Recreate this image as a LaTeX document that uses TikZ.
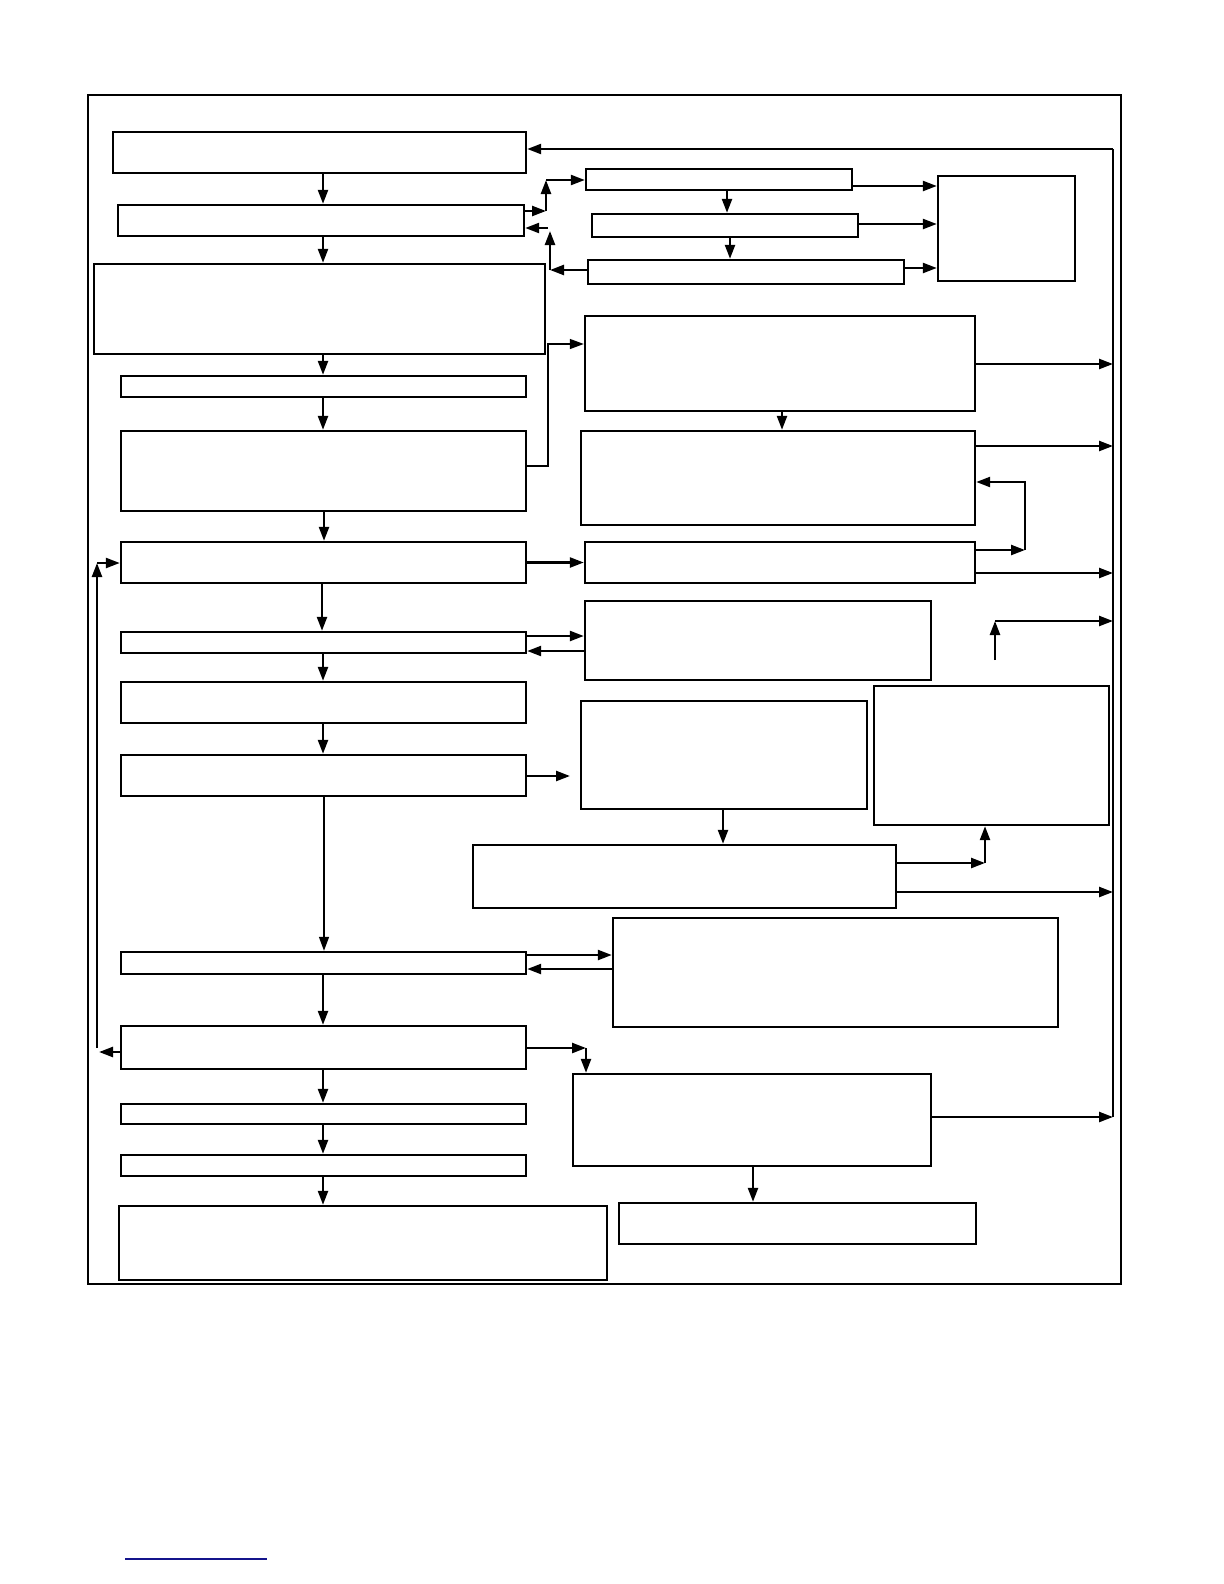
\documentclass[tikz,border=0pt]{standalone}
\usepackage{tikz}
\usetikzlibrary{arrows.meta, fit, calc}
\definecolor{rulenavy}{RGB}{20,20,140}

\begin{document}
\begin{tikzpicture}[x=0.5pt, y=-0.5pt, >={Triangle[length=7pt, width=5pt]}]
  \tikzset{
    blk/.style={draw, line width=1.2pt, inner sep=0pt},
    arr/.style={->, line width=1.2pt},
    thinarr/.style={->, line width=0.7pt}
  }
  \useasboundingbox (0,0) rectangle (1224,1584);

  % Outer frame
  \node[blk, fit={(88,95) (1121,1284)}] (frame) {};

  % Left column
  \node[blk, fit={(113,132) (526,173)}] (b1) {};
  \node[blk, fit={(118,205) (524,236)}] (b2) {};
  \node[blk, fit={(94,264) (545,354)}] (b3) {};
  \node[blk, fit={(121,376) (526,397)}] (b4) {};
  \node[blk, fit={(121,431) (526,511)}] (b5) {};
  \node[blk, fit={(121,542) (526,583)}] (b6) {};
  \node[blk, fit={(121,632) (526,653)}] (b7) {};
  \node[blk, fit={(121,682) (526,723)}] (b8) {};
  \node[blk, fit={(121,755) (526,796)}] (b9) {};
  \node[blk, fit={(121,952) (526,974)}] (b10) {};
  \node[blk, fit={(121,1026) (526,1069)}] (b11) {};
  \node[blk, fit={(121,1104) (526,1124)}] (b12) {};
  \node[blk, fit={(121,1155) (526,1176)}] (b13) {};
  \node[blk, fit={(119,1206) (607,1280)}] (b14) {};

  % Right side
  \node[blk, fit={(586,169) (852,190)}] (r1) {};
  \node[blk, fit={(592,214) (858,237)}] (r2) {};
  \node[blk, fit={(588,260) (904,284)}] (r3) {};
  \node[blk, fit={(938,176) (1075,281)}] (r4) {};
  \node[blk, fit={(585,316) (975,411)}] (r5) {};
  \node[blk, fit={(581,431) (975,525)}] (r6) {};
  \node[blk, fit={(585,542) (975,583)}] (r7) {};
  \node[blk, fit={(585,601) (931,680)}] (r8) {};
  \node[blk, fit={(581,701) (867,809)}] (r9) {};
  \node[blk, fit={(874,686) (1109,825)}] (r10) {};
  \node[blk, fit={(473,845) (896,908)}] (r11) {};
  \node[blk, fit={(613,918) (1058,1027)}] (r12) {};
  \node[blk, fit={(573,1074) (931,1166)}] (r13) {};
  \node[blk, fit={(619,1203) (976,1244)}] (r14) {};

  % Main downward flow
  \coordinate (lx) at (323,0);
  \draw[arr] (b1.south -| lx) -- (b2.north -| lx);
  \draw[arr] (b2.south -| lx) -- (b3.north -| lx);
  \draw[arr] (b3.south -| lx) -- (b4.north -| lx);
  \draw[arr] (b4.south -| lx) -- (b5.north -| lx);
  \draw[arr] (b5.south -| 324,0) -- (b6.north -| 324,0);
  \draw[arr] (b6.south -| 322,0) -- (b7.north -| 322,0);
  \draw[arr] (b7.south -| lx) -- (b8.north -| lx);
  \draw[arr] (b8.south -| lx) -- (b9.north -| lx);
  \draw[thinarr] (b9.south -| 324,0) -- (b10.north -| 324,0);
  \draw[arr] (b10.south -| lx) -- (b11.north -| lx);
  \draw[arr] (b11.south -| lx) -- (b12.north -| lx);
  \draw[arr] (b12.south -| lx) -- (b13.north -| lx);
  \draw[arr] (b13.south -| lx) -- (b14.north -| lx);

  % Upper exchange with the small boxes
  \coordinate (up1) at (546,211);
  \coordinate (up2) at (546,180);
  \draw[arr] (b2.east |- up1) -- (up1);
  \draw[arr] (up1) -- (up2);
  \draw[arr] (up2) -- (up2 -| r1.west);
  \coordinate (dn1) at (550,270);
  \coordinate (dn2) at (550,231);
  \coordinate (dn3) at (548,228);
  \draw[arr] (r3.west |- dn1) -- (dn1);
  \draw[arr] (dn1) -- (dn2);
  \draw[arr] (dn3) -- (dn3 -| b2.east);
  \draw[arr] (r1.south -| 727,0) -- (r2.north -| 727,0);
  \draw[arr] (r2.south -| 730,0) -- (r3.north -| 730,0);
  \draw[arr] (r1.east |- 0,186) -- (r4.west |- 0,186);
  \draw[arr] (r2.east |- 0,224) -- (r4.west |- 0,224);
  \draw[arr] (r3.east |- 0,268) -- (r4.west |- 0,268);

  % Right bus
  \coordinate (busT) at (1113,149);
  \coordinate (busB) at (1113,1117);
  \draw[line width=1.2pt] (busB) -- (busT);
  \draw[arr] (busT) -- (busT -| b1.east);
  \draw[arr] (r5.east |- 0,364) -- (busT |- 0,364);
  \draw[arr] (r6.east |- 0,446) -- (busT |- 0,446);
  \draw[arr] (r7.east |- 0,573) -- (busT |- 0,573);
  \draw[arr] (r11.east |- 0,892) -- (busT |- 0,892);
  \draw[arr] (r13.east |- busB) -- (busB);

  % Middle links
  \coordinate (j1) at (548,466);
  \coordinate (j2) at (548,344);
  \draw[thinarr] (b5.east |- j1) -- (j1) -- (j2) -- (j2 -| r5.west);
  \draw[arr] (r5.south -| 782,0) -- (r6.north -| 782,0);
  \coordinate (k1) at (1025,550);
  \coordinate (k2) at (1025,482);
  \draw[arr] (r7.east |- k1) -- (k1);
  \draw[arr] (k1) -- (k2) -- (k2 -| r6.east);
  \draw[arr] (b6.east) -- (r7.west);
  \draw[arr] (b7.east |- 0,636) -- (r8.west |- 0,636);
  \draw[arr] (r8.west |- 0,651) -- (b7.east |- 0,651);
  \coordinate (f1) at (995,660);
  \coordinate (f2) at (995,621);
  \draw[arr] (f1) -- (f2);
  \draw[arr] (f2) -- (f2 -| busT);
  \coordinate (g1) at (570,776);
  \draw[arr] (b9.east |- g1) -- (g1);
  \draw[arr] (r9.south -| 723,0) -- (r11.north -| 723,0);
  \coordinate (h1) at (985,863);
  \draw[arr] (r11.east |- 900,863) -- (h1);
  \draw[arr] (h1) -- (h1 |- r10.south);
  \draw[arr] (b10.east |- 0,955) -- (r12.west |- 0,955);
  \draw[arr] (r12.west |- 0,969) -- (b10.east |- 0,969);
  \coordinate (m1) at (586,1048);
  \draw[arr] (b11.east |- m1) -- (m1);
  \draw[arr] (m1) -- (m1 |- r13.north);
  \draw[arr] (r13.south -| 753,0) -- (r14.north -| 753,0);

  % Left return line
  \coordinate (lb1) at (97,1048);
  \coordinate (lb2) at (97,563);
  \draw[arr] (b11.west |- 0,1052) -- (99,1052);
  \draw[arr] (lb1) -- (lb2);
  \draw[arr] (lb2) -- (lb2 -| b6.west);

  % Footnote rule
  \draw[rulenavy, line width=0.8pt] (125,1559) -- (267,1559);
\end{tikzpicture}
\end{document}
